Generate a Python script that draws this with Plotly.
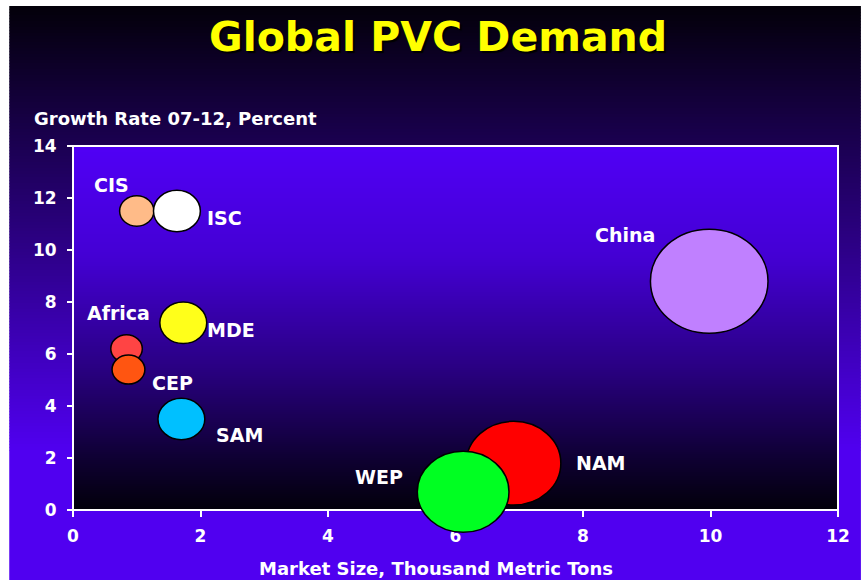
import plotly.graph_objects as go

# ---------------- data ----------------
regions = ["CIS", "ISC", "MDE", "Africa", "CEP", "SAM", "China", "NAM", "WEP"]
market_size = [1.00, 1.63, 1.73, 0.84, 0.87, 1.70, 9.98, 6.91, 6.12]   # x
growth_rate = [11.5, 11.5, 7.2, 6.2, 5.4, 3.5, 8.8, 1.8, 0.7]          # y
bubble_size = [0.85, 1.59, 1.59, 0.72, 0.78, 1.59, 10.0, 6.48, 6.08]   # relative bubble area
x_ticks = [0, 2, 4, 6, 8, 10, 12]
y_ticks = [0, 2, 4, 6, 8, 10, 12, 14]

# ---------------- styles ----------------
colors = ["#ffbb88", "#ffffff", "#ffff1a", "#ff4444", "#ff5511",
          "#00c0ff", "#c080ff", "#ff0000", "#00ff22"]
# label offsets (pixels) relative to bubble centre
label_dx = [-25, 48, 48, -8, 44, 58, -84, 87, -84]
label_dy = [26, -7, -7, 36, -13, -16, 46, 0, 15]

W, H = 862, 580
L, R, T, B = 73, 21, 146, 44
PW, PH = W - L - R, H - T - B
FONT = "DejaVu Sans"
MAXR_X, MAXR_Y, MAXS = 0.922, 2.0, 10.0


def px_x(px):
    return (px - L) / PW


def px_y(py):
    return (T + PH - py) / PH


def lerp(stops, f):
    for (f0, c0), (f1, c1) in zip(stops[:-1], stops[1:]):
        if f <= f1:
            t = 0 if f1 == f0 else (f - f0) / (f1 - f0)
            return "rgb(%d,%d,%d)" % tuple(round(a + (b - a) * t) for a, b in zip(c0, c1))
    return "rgb(%d,%d,%d)" % stops[-1][1]


shapes = []
# outer (slide) background gradient
outer_stops = [(0.0, (3, 0, 10)), (1.0, (80, 0, 240))]
y0, y1, step = 6, 450, 3
py = y0
while py < y1:
    f = (py - y0) / (y1 - y0)
    shapes.append(dict(type="rect", xref="paper", yref="paper", layer="below",
                       x0=px_x(9), x1=px_x(W + 2), y0=px_y(py + step + 0.6), y1=px_y(py),
                       fillcolor=lerp(outer_stops, f), line=dict(width=0)))
    py += step
shapes.append(dict(type="rect", xref="paper", yref="paper", layer="below",
                   x0=px_x(9), x1=px_x(W + 2), y0=px_y(H + 2), y1=px_y(y1),
                   fillcolor="rgb(80,0,240)", line=dict(width=0)))

# plot-area gradient (bright at top, black at bottom)
plot_stops = [(0.0, (80, 0, 245)), (0.3, (68, 0, 212)), (0.6, (42, 0, 132)),
              (0.85, (15, 0, 52)), (1.0, (2, 0, 10))]
top_px, bot_px, step = T, T + PH * 14 / 15, 2
py = top_px
while py < bot_px:
    f = (py - top_px) / (bot_px - top_px)
    shapes.append(dict(type="rect", xref="paper", yref="paper", layer="below",
                       x0=0, x1=1, y0=max(px_y(py + step + 0.6), 1 / 15), y1=px_y(py),
                       fillcolor=lerp(plot_stops, f), line=dict(width=0)))
    py += step

# plot frame
shapes.append(dict(type="rect", xref="paper", yref="paper", layer="below",
                   x0=0, x1=1, y0=1 / 15, y1=1,
                   line=dict(color="#ffffff", width=2), fillcolor="rgba(0,0,0,0)"))

# bubbles (ellipses in data coordinates)
for x, y, s, c in zip(market_size, growth_rate, bubble_size, colors):
    k = (s / MAXS) ** 0.5
    rx, ry = MAXR_X * k, MAXR_Y * k
    shapes.append(dict(type="circle", xref="x", yref="y", layer="above",
                       x0=x - rx, x1=x + rx, y0=y - ry, y1=y + ry,
                       fillcolor=c, line=dict(color="#000000", width=1.5)))

annotations = []
for name, x, y, dx, dy in zip(regions, market_size, growth_rate, label_dx, label_dy):
    annotations.append(dict(x=x, y=y, xref="x", yref="y", text=name, showarrow=False,
                            xshift=dx, yshift=dy, xanchor="center", yanchor="middle",
                            font=dict(family=FONT, size=19, color="#ffffff", weight="bold")))

annotations.append(dict(text="Global PVC Demand", xref="paper", yref="paper",
                        x=px_x(439), y=px_y(37), xanchor="center", yanchor="middle",
                        showarrow=False,
                        font=dict(family=FONT, size=41, color="#ffff00", weight="bold",
                                  shadow="2px 2px 1px #000000")))
annotations.append(dict(text="Growth Rate 07-12, Percent", xref="paper", yref="paper",
                        x=px_x(32), y=px_y(118), xanchor="left", yanchor="middle",
                        showarrow=False,
                        font=dict(family=FONT, size=18, color="#ffffff", weight="bold")))
annotations.append(dict(text="Market Size, Thousand Metric Tons", xref="paper", yref="paper",
                        x=px_x(437), y=px_y(568), xanchor="center", yanchor="middle",
                        showarrow=False,
                        font=dict(family=FONT, size=18, color="#ffffff", weight="bold")))

fig = go.Figure()
# invisible traces so both axis pairs are drawn
fig.add_trace(go.Scatter(x=market_size, y=growth_rate, mode="markers",
                         marker=dict(size=1, opacity=0), hoverinfo="skip",
                         showlegend=False))
fig.add_trace(go.Scatter(x=market_size, y=growth_rate, mode="markers",
                         xaxis="x2", yaxis="y2",
                         marker=dict(size=1, opacity=0), hoverinfo="skip",
                         showlegend=False))

tickfont = dict(family=FONT, size=17, color="#ffffff", weight="bold")
common = dict(showgrid=False, zeroline=False, showline=False, fixedrange=True)
fig.update_layout(
    width=W, height=H,
    margin=dict(l=L, r=R, t=T, b=B, pad=0),
    paper_bgcolor="#ffffff",
    plot_bgcolor="rgba(0,0,0,0)",
    showlegend=False,
    shapes=shapes,
    annotations=annotations,
    # visible tick marks
    xaxis=dict(range=[0, 12], tickmode="array", tickvals=x_ticks,
               anchor="free", position=1 / 15,
               ticks="outside", ticklen=6, tickwidth=2, tickcolor="#ffffff",
               showticklabels=False, **common),
    yaxis=dict(range=[-1, 14], tickmode="array", tickvals=y_ticks,
               ticks="outside", ticklen=5, tickwidth=2, tickcolor="#ffffff",
               showticklabels=False, **common),
    # tick labels (spaced out by transparent ticks)
    xaxis2=dict(range=[0, 12], tickmode="array", tickvals=x_ticks,
                overlaying="x", anchor="free", position=1 / 15,
                ticks="outside", ticklen=11, tickwidth=1, tickcolor="rgba(0,0,0,0)",
                tickfont=tickfont, **common),
    yaxis2=dict(range=[-1, 14], tickmode="array", tickvals=y_ticks,
                overlaying="y", anchor="x2", side="left",
                ticks="outside", ticklen=12, tickwidth=1, tickcolor="rgba(0,0,0,0)",
                tickfont=tickfont, **common),
)

fig.write_html("out.html", config={"displayModeBar": False})
